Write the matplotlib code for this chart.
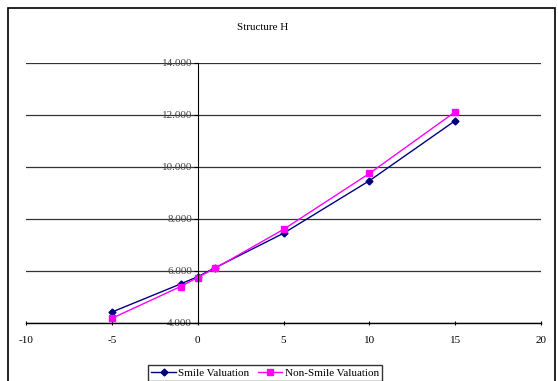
import matplotlib.pyplot as plt
from matplotlib.patches import Rectangle
from matplotlib.ticker import FuncFormatter

# values
shifts = [-5, -1, 0, 1, 5, 10, 15]
smile = [4420, 5500, 5780, 6120, 7450, 9470, 11780]
non_smile = [4180, 5400, 5750, 6100, 7600, 9750, 12120]

plt.rcParams['font.family'] = ['Liberation Serif', 'DejaVu Serif']
plt.rcParams['axes.unicode_minus'] = False

fig = plt.figure(figsize=(5.58, 3.81), dpi=100)
fig.patches.append(Rectangle((8 / 558, -0.01), 547 / 558, 1 - 8 / 381 + 0.01,
                             transform=fig.transFigure, fill=False,
                             edgecolor='black', linewidth=1.2))

ax = fig.add_axes([26 / 558, 1 - 323 / 381, 515 / 558, 260 / 381])
ax.plot(shifts, smile, color='#000080', marker='D', markersize=3.5,
        linewidth=1, label='Smile Valuation')
ax.plot(shifts, non_smile, color='#FF00FF', marker='s', markersize=4.5,
        linewidth=1, label='Non-Smile Valuation')

ax.set_xlim(-10, 20)
ax.set_ylim(4000, 14000)
ax.set_xticks(range(-10, 21, 5))
ax.set_yticks(range(4000, 14001, 2000))
ax.yaxis.set_major_formatter(FuncFormatter(lambda v, p: f'{v:,.0f}'.replace(',', '.')))

ax.grid(axis='y', color='#333333', linewidth=0.9)
ax.set_axisbelow(True)
for side in ['top', 'right']:
    ax.spines[side].set_visible(False)
ax.spines['left'].set_position(('data', 0))
ax.spines['bottom'].set_linewidth(1)
ax.tick_params(axis='both', labelsize=8, colors='black', length=3, width=0.8)
ax.tick_params(axis='x', direction='inout', pad=8)
ax.tick_params(axis='y', direction='out', pad=1, labelcolor='#444444')

fig.text(263 / 558, 1 - 27 / 381, 'Structure H', ha='center', va='center', fontsize=8)

leg = fig.legend(loc='lower center', bbox_to_anchor=(0.475, 0.0), ncol=2,
                 fontsize=8, frameon=True, fancybox=False, edgecolor='black',
                 handlelength=2.2, handletextpad=0.2, columnspacing=0.8,
                 borderpad=0.3, borderaxespad=0.0)
leg.get_frame().set_linewidth(1)

plt.savefig('out.png', dpi=100)
